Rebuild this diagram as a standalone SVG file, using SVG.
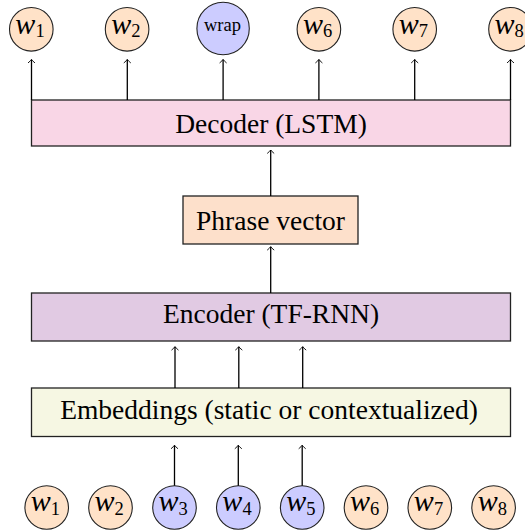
<svg xmlns="http://www.w3.org/2000/svg" width="525" height="532" viewBox="0 0 525 532">
<defs>
<marker id="arr" markerUnits="userSpaceOnUse" markerWidth="10" markerHeight="10" viewBox="-5 -5 10 10" refX="0" refY="0" orient="auto">
<path d="M -3.2 -3.2 Q -1 -0.6 0 0 Q -1 0.6 -3.2 3.2" fill="none" stroke="#000" stroke-width="0.9" stroke-linecap="round"/>
</marker>
</defs>
<style>
.box{stroke:#222;stroke-width:1.3}
.lbl{font-family:"Liberation Serif","Times New Roman",serif;font-size:27.5px;fill:#000;text-anchor:middle}
.w{font-family:"Liberation Serif","Times New Roman",serif;font-size:30px;font-style:italic;fill:#000;text-anchor:middle}
.sub{font-style:normal;font-size:18.5px}
.circ{stroke:#222;stroke-width:1.1}
.or{fill:#ffe2c8}
.bl{fill:#ccccff}
.con line{stroke:#000;stroke-width:1.3;marker-end:url(#arr)}
</style>
<rect width="525" height="532" fill="#fff"/>

<g id="decoder"><rect class="box" x="31.5" y="100" width="479" height="46" fill="#f9d6e6"/><text class="lbl" x="271" y="133">Decoder (LSTM)</text></g>
<g id="phrase"><rect class="box" x="183" y="196" width="175" height="48" fill="#fde0cb"/><text class="lbl" x="270.5" y="230">Phrase vector</text></g>
<g id="encoder"><rect class="box" x="31.5" y="293" width="479" height="48" fill="#e1cae3"/><text class="lbl" x="271" y="323">Encoder (TF-RNN)</text></g>
<g id="embeddings"><rect class="box" x="31.5" y="388" width="479" height="48.5" fill="#f6f7e3"/><text class="lbl" x="269" y="418.5">Embeddings (static or contextualized)</text></g>

<g id="out-w1"><circle class="circ or" cx="31.3" cy="29.3" r="21.8"/><text class="w" x="30" y="33.5">w<tspan class="sub" dy="3.5">1</tspan></text></g>
<g id="out-w2"><circle class="circ or" cx="127.1" cy="29.3" r="21.8"/><text class="w" x="125.8" y="33.5">w<tspan class="sub" dy="3.5">2</tspan></text></g>
<g id="out-wrap"><circle class="circ bl" cx="223.1" cy="28.5" r="26.2"/><text class="lbl" x="222.5" y="31" style="font-size:18.5px">wrap</text></g>
<g id="out-w6"><circle class="circ or" cx="318.9" cy="29.3" r="21.8"/><text class="w" x="317.6" y="33.5">w<tspan class="sub" dy="3.5">6</tspan></text></g>
<g id="out-w7"><circle class="circ or" cx="414.7" cy="29.3" r="21.8"/><text class="w" x="413.4" y="33.5">w<tspan class="sub" dy="3.5">7</tspan></text></g>
<g id="out-w8"><circle class="circ or" cx="510.5" cy="29.3" r="21.8"/><text class="w" x="509.2" y="33.5">w<tspan class="sub" dy="3.5">8</tspan></text></g>

<g id="in-w1"><circle class="circ or" cx="46.7" cy="507.5" r="21.8"/><text class="w" x="45.4" y="511">w<tspan class="sub" dy="3.5">1</tspan></text></g>
<g id="in-w2"><circle class="circ or" cx="110.5" cy="507.5" r="21.8"/><text class="w" x="109.2" y="511">w<tspan class="sub" dy="3.5">2</tspan></text></g>
<g id="in-w3"><circle class="circ bl" cx="174.5" cy="507.5" r="21.8"/><text class="w" x="173.2" y="511">w<tspan class="sub" dy="3.5">3</tspan></text></g>
<g id="in-w4"><circle class="circ bl" cx="238.3" cy="507.5" r="21.8"/><text class="w" x="237" y="511">w<tspan class="sub" dy="3.5">4</tspan></text></g>
<g id="in-w5"><circle class="circ bl" cx="302.2" cy="507.5" r="21.8"/><text class="w" x="300.9" y="511">w<tspan class="sub" dy="3.5">5</tspan></text></g>
<g id="in-w6"><circle class="circ or" cx="366" cy="507.5" r="21.8"/><text class="w" x="364.7" y="511">w<tspan class="sub" dy="3.5">6</tspan></text></g>
<g id="in-w7"><circle class="circ or" cx="429.8" cy="507.5" r="21.8"/><text class="w" x="428.5" y="511">w<tspan class="sub" dy="3.5">7</tspan></text></g>
<g id="in-w8"><circle class="circ or" cx="493.6" cy="507.5" r="21.8"/><text class="w" x="492.3" y="511">w<tspan class="sub" dy="3.5">8</tspan></text></g>

<g id="connectors" class="con">
<line x1="31.5" y1="100" x2="31.5" y2="59.5"/>
<line x1="127.3" y1="100" x2="127.3" y2="59.5"/>
<line x1="223.1" y1="100" x2="223.1" y2="59.5"/>
<line x1="318.9" y1="100" x2="318.9" y2="59.5"/>
<line x1="414.7" y1="100" x2="414.7" y2="59.5"/>
<line x1="510.5" y1="100" x2="510.5" y2="59.5"/>
<line x1="270.7" y1="196" x2="270.7" y2="150"/>
<line x1="270.7" y1="293" x2="270.7" y2="246.7"/>
<line x1="175" y1="388" x2="175" y2="346.7"/>
<line x1="238.8" y1="388" x2="238.8" y2="346.7"/>
<line x1="302.7" y1="388" x2="302.7" y2="346.7"/>
<line x1="174.5" y1="485.7" x2="174.5" y2="445.3"/>
<line x1="238.3" y1="485.7" x2="238.3" y2="445.3"/>
<line x1="302.2" y1="485.7" x2="302.2" y2="445.3"/>
</g>
</svg>
